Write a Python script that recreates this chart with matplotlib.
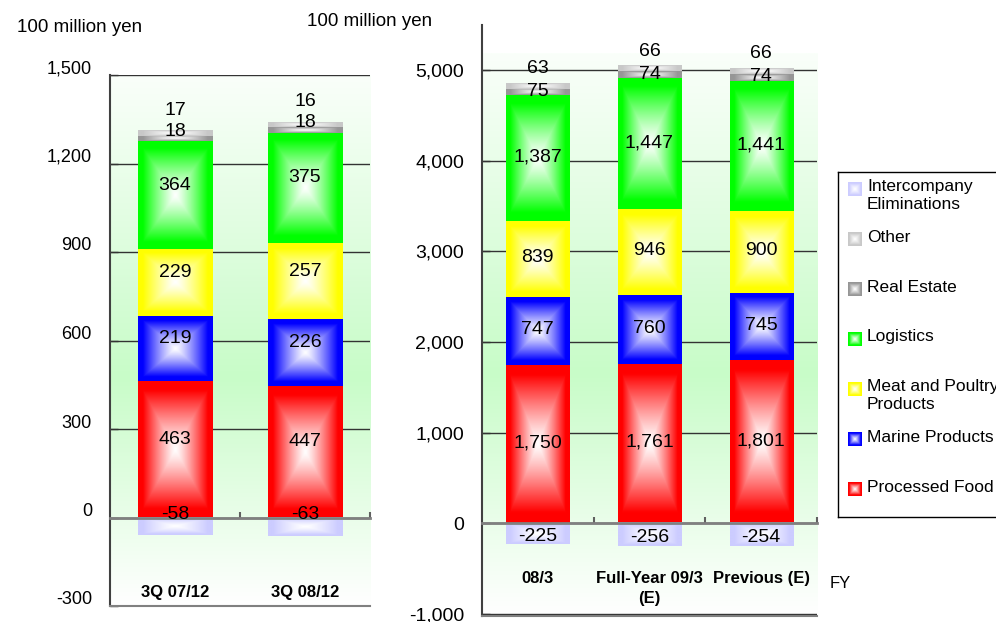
import matplotlib.pyplot as plt
import numpy as np
from matplotlib.colors import to_rgb
from matplotlib.transforms import ScaledTranslation, blended_transform_factory

#%% data (100 million yen)

seg_names = ['Processed Food', 'Marine Products', 'Meat and Poultry\nProducts',
             'Logistics', 'Real Estate', 'Other']
seg_colors = ['#ff0000', '#0000ff', '#ffff00', '#00ff00', '#969696', '#c8c8c8']
elim_name = 'Intercompany\nEliminations'
elim_color = '#ccccff'

q_labels = ['3Q 07/12', '3Q 08/12']
q_processed = [463, 447]
q_marine = [219, 226]
q_meat = [229, 257]
q_logistics = [364, 375]
q_real_estate = [18, 18]
q_other = [17, 16]
q_elim = [-58, -63]

fy_labels = ['08/3', 'Full-Year 09/3\n(E)', 'Previous (E)']
fy_processed = [1750, 1761, 1801]
fy_marine = [747, 760, 745]
fy_meat = [839, 946, 900]
fy_logistics = [1387, 1447, 1441]
fy_real_estate = [75, 74, 74]
fy_other = [63, 66, 66]
fy_elim = [-225, -256, -254]

FONT = ['Liberation Sans', 'DejaVu Sans']
PX = 72 / 100  # points per pixel at dpi 100
VAL_SIZE = 14


#%% helpers

def pillow(color, n=64):
    # white in the middle, full colour at the edges (rectangular bands)
    u = np.abs(np.linspace(-1, 1, n))
    t = np.maximum(u[None, :], u[:, None])
    t = np.clip(t / 0.88, 0, 1) ** 1.2
    c = np.array(to_rgb(color))
    return 1 - t[..., None] * (1 - c)


def backdrop(n=200):
    # vertical wash: near white at top, pale green lower down, white at the bottom
    pos = np.linspace(0, 1, n)
    stops = [0, 0.57, 1]
    cols = np.array([to_rgb('#fafffa'), to_rgb('#c8fcc8'), to_rgb('#ffffff')])
    img = np.stack([np.interp(pos, stops, cols[:, k]) for k in range(3)], axis=-1)
    return img[:, None, :]


def draw_panel(ax, cats, stacks, elim, ylim, yticks, width, top_frac,
               shift, re_dy, other_dy, elim_dy, tick_size, cat_y, cat_va):
    x = np.arange(len(cats))
    ax.imshow(backdrop(), extent=[0, 1, 0, top_frac], transform=ax.transAxes,
              aspect='auto', zorder=0, interpolation='bilinear')

    bottoms = np.zeros(len(cats))
    for i, (vals, color) in enumerate(zip(stacks, seg_colors)):
        vals = np.array(vals)
        for xi, b, v in zip(x, bottoms, vals):
            ax.imshow(pillow(color), extent=[xi - width / 2, xi + width / 2, b, b + v],
                      aspect='auto', zorder=2, interpolation='bilinear')
            if i < 4:
                ax.annotate(f'{v:,}', (xi, b + v / 2), xytext=(0, shift * PX),
                            textcoords='offset points', ha='center', va='center',
                            fontsize=VAL_SIZE, family=FONT, zorder=5)
        bottoms = bottoms + vals

    # thin top segments: labels sit around the top of the stack
    for xi, top, re_v, ot_v in zip(x, bottoms, stacks[4], stacks[5]):
        ax.annotate(f'{re_v:,}', (xi, top), xytext=(0, re_dy * PX),
                    textcoords='offset points', ha='center', va='center',
                    fontsize=VAL_SIZE, family=FONT, zorder=5)
        ax.annotate(f'{ot_v:,}', (xi, top), xytext=(0, other_dy * PX),
                    textcoords='offset points', ha='center', va='center',
                    fontsize=VAL_SIZE, family=FONT, zorder=5)

    for xi, v in zip(x, elim):
        ax.imshow(pillow(elim_color), extent=[xi - width / 2, xi + width / 2, v, 0],
                  aspect='auto', zorder=2, interpolation='bilinear')
        ax.annotate(f'{v:,}', (xi, v / 2), xytext=(0, elim_dy * PX),
                    textcoords='offset points', ha='center', va='center',
                    fontsize=VAL_SIZE, family=FONT, zorder=5)

    ax.set_xlim(-0.5, len(cats) - 0.5)
    ax.set_ylim(*ylim)
    ax.set_yticks(yticks)
    ax.set_yticklabels([f'{t:,}' for t in yticks], family=FONT, fontsize=tick_size)
    ax.tick_params(axis='y', direction='in', length=6, width=1, color='#333333', pad=13)

    ax.set_axisbelow(True)
    ax.yaxis.grid(True, color='#333333', lw=1)

    ax.spines['top'].set_visible(False)
    ax.spines['right'].set_visible(False)
    ax.spines['left'].set_color('#404040')
    ax.spines['left'].set_linewidth(1.5)
    ax.spines['bottom'].set_position(('data', 0))
    ax.spines['bottom'].set_color('#808080')
    ax.spines['bottom'].set_linewidth(2)
    ax.set_xticks(np.arange(len(cats)) + 0.5)
    ax.tick_params(axis='x', direction='in', length=4, width=1.5, color='#606060',
                   labelbottom=False)
    ax.axhline(ylim[0], color='#808080', lw=1.5, clip_on=False, zorder=3)

    tr = blended_transform_factory(ax.transData, ax.transAxes)
    for xi, lab in zip(x, cats):
        ax.text(xi, cat_y, lab, transform=tr, ha='center', va=cat_va, fontsize=12,
                fontweight='bold', family=FONT, linespacing=1.35, zorder=5)


#%% figure

fig = plt.figure(figsize=(9.96, 6.22), dpi=100)
W, H = 996, 622

ax_q = fig.add_axes([110 / W, 1 - 606 / H, 260 / W, 531 / H])
draw_panel(ax_q, q_labels,
           [q_processed, q_marine, q_meat, q_logistics, q_real_estate, q_other],
           q_elim, (-300, 1500), list(range(-300, 1501, 300)), 0.57, 1.0,
           shift=10, re_dy=0, other_dy=21, elim_dy=12, tick_size=13,
           cat_y=0.0245, cat_va='center')
# the quarterly axis labels sit a little above their gridlines
for lab in ax_q.get_yticklabels():
    lab.set_transform(lab.get_transform() + ScaledTranslation(0, 8 / 100, fig.dpi_scale_trans))

ax_fy = fig.add_axes([482 / W, 1 - 616 / H, 335 / W, 591 / H])
draw_panel(ax_fy, fy_labels,
           [fy_processed, fy_marine, fy_meat, fy_logistics, fy_real_estate, fy_other],
           fy_elim, (-1025, 5500), list(range(-1000, 5001, 1000)), 0.565, 563 / 591,
           shift=1, re_dy=-9, other_dy=14, elim_dy=-3, tick_size=14,
           cat_y=0.0755, cat_va='top')

fig.text(17 / W, 1 - 27 / H, '100 million yen', ha='left', va='center',
         fontsize=13.5, family=FONT)
fig.text(307 / W, 1 - 22 / H, '100 million yen', ha='left', va='center',
         fontsize=13.5, family=FONT)
fig.text(830 / W, 1 - 583 / H, 'FY', ha='left', va='center', fontsize=12, family=FONT)

#%% legend box (runs off the right edge)

leg_w, leg_h = 170, 345
ax_leg = fig.add_axes([838 / W, 1 - 517 / H, leg_w / W, leg_h / H])
ax_leg.set_xticks([])
ax_leg.set_yticks([])
for s in ax_leg.spines.values():
    s.set_color('black')
    s.set_linewidth(1)

leg_names = [elim_name] + seg_names[::-1]
leg_colors = [elim_color] + seg_colors[::-1]
for k, (name, color) in enumerate(zip(leg_names, leg_colors)):
    yc = 17 + 50 * k
    ax_leg.imshow(pillow(color, 16), extent=[10, 24, yc + 7, yc - 7], aspect='auto',
                  interpolation='bilinear')
    ax_leg.text(29, yc - 9.5, name, ha='left', va='top', fontsize=12.5,
                family=FONT, linespacing=1.2)
ax_leg.set_xlim(0, leg_w)
ax_leg.set_ylim(leg_h, 0)

fig.savefig('out.png', dpi=100)
